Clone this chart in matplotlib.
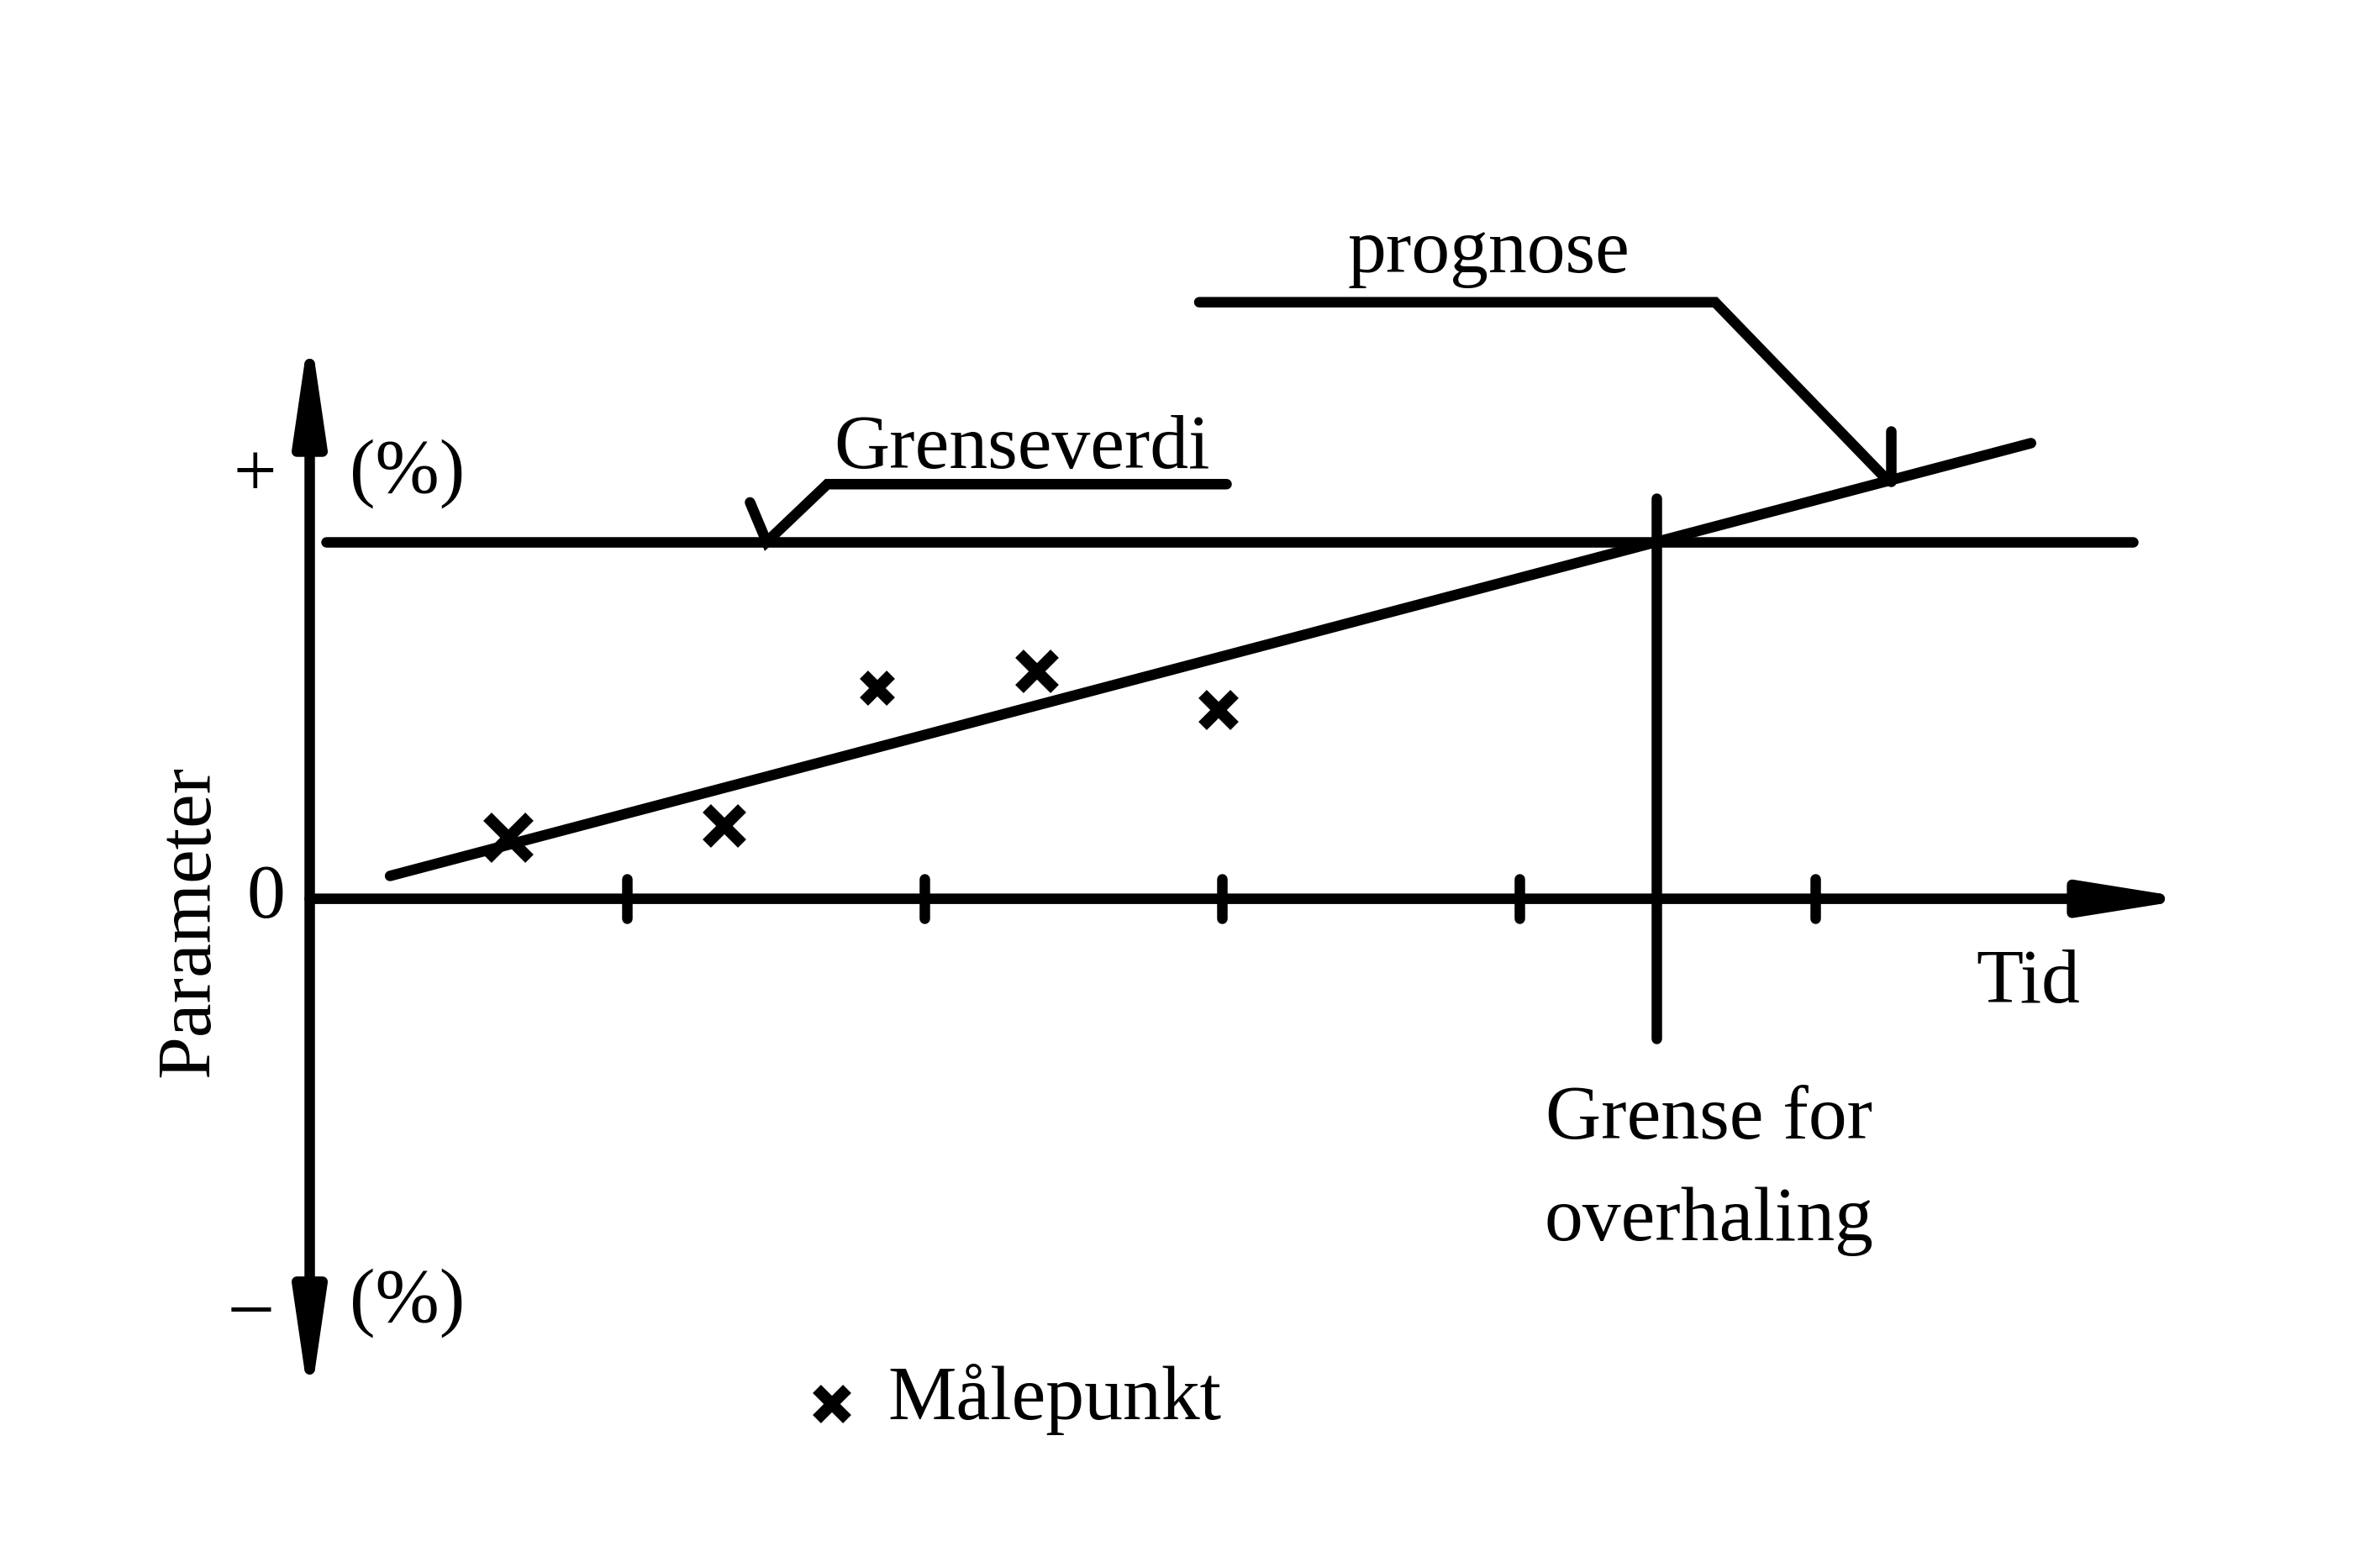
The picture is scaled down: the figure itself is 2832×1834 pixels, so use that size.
import numpy as np
import matplotlib
matplotlib.use('Agg')
import matplotlib.pyplot as plt

plt.rcParams['font.family'] = ['Liberation Serif', 'DejaVu Serif']
plt.rcParams['lines.solid_capstyle'] = 'round'

# diagram units: t = time (tick spacing 1), p = parameter (% of limit)
t_min, t_max = -1.041, 6.959
p_min, p_max = -180.0, 251.9

# measurement points (Målepunkt)
pts_t = [0.668, 1.393, 1.908, 2.444, 3.056]
pts_p = [17.0, 20.4, 59.1, 63.8, 52.8]
pts_size = [36, 30, 23, 30, 27]

# trend / prognosis line
trend_t = [0.270, 5.786]
trend_p = [6.4, 127.7]

# limit value (Grenseverdi)
limit_p = 100.0
limit_t = [0.056, 6.128]

# overhaul limit (Grense for overhaling)
overhaul_t = 4.526
overhaul_p = [112.3, -39.1]

# time axis ticks
tick_t = [1.066, 2.066, 3.066, 4.066, 5.06]
tick_half = 5.5

# axis extents
yaxis_p = [-142.0, 160.0]
xaxis_t = [0.0, 6.33]

# leader lines
grense_leader_t = [1.480, 1.536, 1.74, 3.082]
grense_leader_p = [111.1, 100.0, 116.2, 116.2]
prog_leader_t = [2.990, 4.724, 5.301]
prog_leader_p = [167.2, 167.2, 117.5]
prog_tick_t = [5.316, 5.316]
prog_tick_p = [131.1, 117.0]

LW = 9
FS = 66

fig = plt.figure(figsize=(28.32, 18.34), dpi=100)
ax = fig.add_axes([0, 0, 1, 1])
ax.set_xlim(t_min, t_max)
ax.set_ylim(p_min, p_max)
ax.axis('off')

# axes with arrows
arrow_kw = dict(lw=LW, color='black', shrinkA=0, shrinkB=0, mutation_scale=100)
ax.annotate('', xy=(0, yaxis_p[1]), xytext=(0, yaxis_p[0]),
            arrowprops=dict(arrowstyle='<|-|>,head_length=0.75,head_width=0.11', **arrow_kw))
ax.annotate('', xy=(xaxis_t[1], 0), xytext=(xaxis_t[0], 0),
            arrowprops=dict(arrowstyle='-|>,head_length=0.75,head_width=0.12', **arrow_kw))

# ticks
for t in tick_t:
    ax.plot([t, t], [-tick_half, tick_half], color='black', lw=LW)

# limit line, overhaul line, trend
ax.plot(limit_t, [limit_p, limit_p], color='black', lw=LW)
ax.plot([overhaul_t, overhaul_t], overhaul_p, color='black', lw=LW)
ax.plot(trend_t, trend_p, color='black', lw=LW)

# leaders
ax.plot(grense_leader_t, grense_leader_p, color='black', lw=LW, solid_joinstyle='miter')
ax.plot(prog_leader_t, prog_leader_p, color='black', lw=LW, solid_joinstyle='miter')
ax.plot(prog_tick_t, prog_tick_p, color='black', lw=LW)

# measurement points
for t, p, s in zip(pts_t, pts_p, pts_size):
    ax.plot(t, p, marker='x', markersize=s, mew=10, color='black')

# legend
ax.plot(1.755, -141.7, marker='x', markersize=26, mew=10, color='black')
ax.text(1.944, -140.4, 'Målepunkt', fontsize=FS, ha='left', va='center')

# labels
ax.text(-0.184, 118.3, '+', fontsize=FS, ha='center', va='center')
ax.text(0.327, 119.1, '(%)', fontsize=FS, ha='center', va='center')
ax.text(-0.148, 0, '0', fontsize=FS, ha='center', va='center')
ax.text(-0.199, -114.9, '–', fontsize=FS, ha='center', va='center')
ax.text(0.327, -113.2, '(%)', fontsize=FS, ha='center', va='center')
ax.text(-0.403, -6.4, 'Parameter', fontsize=FS, ha='center', va='center', rotation=90)
ax.text(5.776, -23.8, 'Tid', fontsize=FS, ha='center', va='center')
ax.text(4.704, -62.0, 'Grense for', fontsize=FS, ha='center', va='center')
ax.text(4.704, -90.5, 'overhaling', fontsize=FS, ha='center', va='center')
ax.text(2.393, 126.0, 'Grenseverdi', fontsize=FS, ha='center', va='center')
ax.text(3.964, 180.9, 'prognose', fontsize=FS, ha='center', va='center')

fig.savefig('out.png', dpi=100, facecolor='white')
